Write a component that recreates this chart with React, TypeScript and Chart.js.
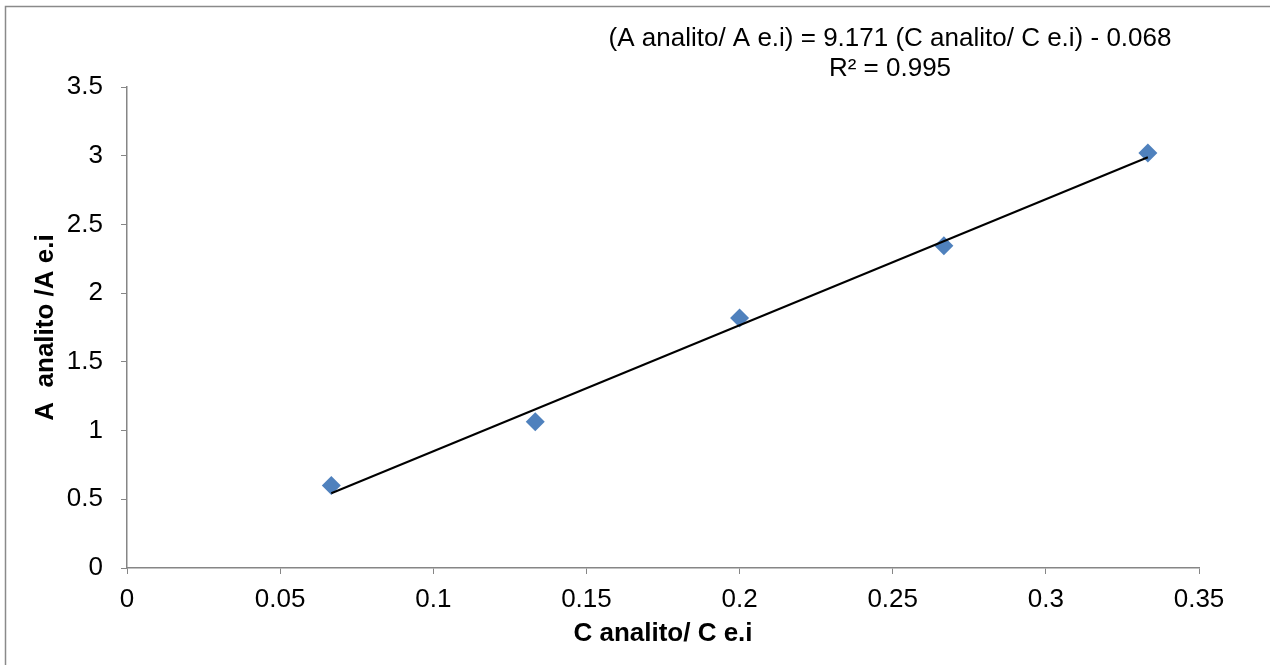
import React, { useEffect, useRef } from "react";
import { Chart, registerables } from "chart.js";

Chart.register(...registerables);

// Data
const concRatio: number[] = [0.0667, 0.1333, 0.2, 0.2667, 0.3333];
const areaRatio: number[] = [0.6, 1.065, 1.82, 2.345, 3.02];

// Linear trendline (as shown in the chart)
const slope = 9.171;
const intercept = -0.068;
const equationLines: string[] = [
  "(A analito/ A e.i) = 9.171 (C analito/ C e.i) - 0.068",
  "R² = 0.995",
];

const xTitle = "C analito/ C e.i";
const yTitle = "A  analito /A e.i";

const xMin = 0, xMax = 0.35, xStep = 0.05;
const yMin = 0, yMax = 3.5, yStep = 0.5;

const FONT = "'Liberation Sans', Arial, sans-serif";
const AXIS_COLOR = "#868686";

export default function App() {
  const ref = useRef<HTMLCanvasElement | null>(null);

  useEffect(() => {
    if (!ref.current) return;
    const x0 = Math.min(...concRatio);
    const x1 = Math.max(...concRatio);
    const trend = [
      { x: x0, y: slope * x0 + intercept },
      { x: x1, y: slope * x1 + intercept },
    ];

    const decor = {
      id: "decor",
      beforeDraw(chart: any) {
        const ctx = chart.ctx;
        ctx.save();
        ctx.fillStyle = "#ffffff";
        ctx.fillRect(0, 0, chart.width, chart.height);
        ctx.strokeStyle = "#8a8a8a";
        ctx.lineWidth = 1.5;
        ctx.beginPath();
        ctx.moveTo(5.5, chart.height);
        ctx.lineTo(5.5, 6.5);
        ctx.lineTo(chart.width, 6.5);
        ctx.stroke();
        ctx.restore();
      },
      afterDraw(chart: any) {
        const ctx = chart.ctx;
        ctx.save();
        ctx.fillStyle = "#000000";
        ctx.font = `26px ${FONT}`;
        ctx.textAlign = "center";
        ctx.textBaseline = "middle";
        equationLines.forEach((t, i) => {
          ctx.fillText(t, 890, 39 + i * 30);
        });
        ctx.restore();
      },
    };

    const chart = new Chart(ref.current, {
      type: "scatter",
      data: {
        datasets: [
          {
            type: "line",
            label: "Lineal",
            data: trend,
            borderColor: "#000000",
            borderWidth: 2,
            pointRadius: 0,
            fill: false,
            order: 0,
          } as any,
          {
            label: "Serie1",
            data: concRatio.map((x, i) => ({ x, y: areaRatio[i] })),
            pointStyle: "rectRot",
            pointRadius: 9.5,
            pointBackgroundColor: "#4F81BD",
            pointBorderColor: "#4F81BD",
            pointBorderWidth: 0,
            backgroundColor: "#4F81BD",
            borderColor: "#4F81BD",
            order: 1,
          },
        ],
      },
      options: {
        animation: false,
        responsive: false,
        devicePixelRatio: 1,
        layout: { padding: { left: 0, top: 87, right: 71, bottom: 0 } },
        plugins: {
          legend: { display: false },
          tooltip: { enabled: false },
        },
        scales: {
          x: {
            type: "linear",
            min: xMin,
            max: xMax,
            ticks: {
              stepSize: xStep,
              color: "#000000",
              font: { family: FONT, size: 26 },
              padding: 10,
              maxRotation: 0,
              callback: (v: any) => String(Number(Number(v).toFixed(2))),
            },
            grid: {
              drawOnChartArea: false,
              drawTicks: true,
              tickLength: 6,
              color: AXIS_COLOR,
            },
            border: { color: AXIS_COLOR, width: 1.5 },
            title: {
              display: true,
              text: xTitle,
              color: "#000000",
              font: { family: FONT, size: 26, weight: "bold" },
              padding: { top: 0, bottom: 16 },
            },
            afterFit: (s: any) => {
              s.height = 665 - 568;
            },
          },
          y: {
            type: "linear",
            min: yMin,
            max: yMax,
            ticks: {
              stepSize: yStep,
              color: "#000000",
              font: { family: FONT, size: 26 },
              padding: 18,
              callback: (v: any) => String(Number(Number(v).toFixed(2))),
            },
            grid: {
              drawOnChartArea: false,
              drawTicks: true,
              tickLength: 6,
              color: AXIS_COLOR,
            },
            border: { color: AXIS_COLOR, width: 1.5 },
            title: {
              display: true,
              text: yTitle,
              color: "#000000",
              font: { family: FONT, size: 26, weight: "bold" },
              padding: { top: 30, bottom: 0 },
            },
            afterFit: (s: any) => {
              s.width = 127;
            },
          },
        },
      },
      plugins: [decor],
    });
    return () => chart.destroy();
  }, []);

  return (
    <div style={{ position: "fixed", left: 0, top: 0, width: 1270, height: 665, background: "#fff" }}>
      <canvas ref={ref} width={1270} height={665} style={{ display: "block", width: 1270, height: 665 }} />
    </div>
  );
}
